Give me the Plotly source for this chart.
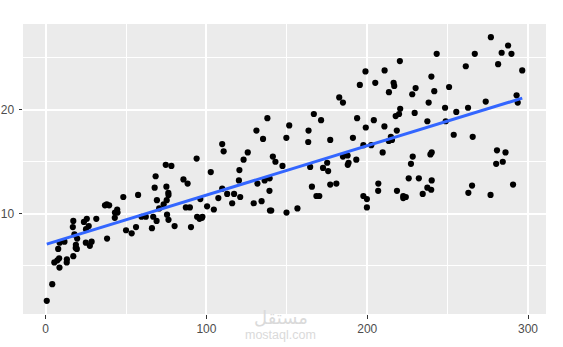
import numpy as np
import plotly.graph_objects as go

tv = [230.1, 44.5, 17.2, 151.5, 180.8, 8.7, 57.5, 120.2, 8.6, 199.8,
      66.1, 214.7, 23.8, 97.5, 204.1, 195.4, 67.8, 281.4, 69.2, 147.3,
      218.4, 237.4, 13.2, 228.3, 62.3, 262.9, 142.9, 240.1, 248.8, 70.6,
      292.9, 112.9, 97.2, 265.6, 95.7, 290.7, 266.9, 74.7, 43.1, 228.0,
      202.5, 177.0, 293.6, 206.9, 25.1, 175.1, 89.7, 239.9, 227.2, 66.9,
      199.8, 100.4, 216.4, 182.6, 262.7, 198.9, 7.3, 136.2, 210.8, 210.7,
      53.5, 261.3, 239.3, 102.7, 131.1, 69.0, 31.5, 139.3, 237.4, 216.8,
      199.1, 109.8, 26.8, 129.4, 213.4, 16.9, 27.5, 120.5, 5.4, 116.0,
      76.4, 239.8, 75.3, 68.4, 213.5, 193.2, 76.3, 110.7, 88.3, 109.8,
      134.3, 28.6, 217.7, 250.9, 107.4, 163.3, 197.6, 184.9, 289.7, 135.2,
      222.4, 296.4, 280.2, 187.9, 238.2, 137.9, 25.0, 90.4, 13.1, 255.4,
      225.8, 241.7, 175.7, 209.6, 78.2, 75.1, 139.2, 76.4, 125.7, 19.4,
      141.3, 18.8, 224.0, 123.1, 229.5, 87.2, 7.8, 80.2, 220.3, 59.6,
      0.7, 265.2, 8.4, 219.8, 36.9, 48.3, 25.6, 273.7, 43.0, 184.9,
      73.4, 193.7, 220.5, 104.6, 96.2, 140.3, 240.1, 243.2, 38.0, 44.7,
      280.7, 121.0, 197.6, 171.3, 187.8, 4.1, 93.9, 149.8, 11.7, 131.7,
      172.5, 85.7, 188.4, 163.5, 117.2, 234.5, 17.9, 206.8, 215.4, 284.3,
      50.0, 164.5, 19.6, 168.4, 222.4, 276.9, 248.4, 170.2, 276.7, 165.6,
      156.6, 218.5, 56.2, 287.6, 253.8, 205.0, 139.5, 191.1, 286.0, 18.7,
      39.5, 75.5, 17.2, 166.8, 149.7, 38.2, 94.2, 177.0, 283.6, 232.1]

sales = [22.1, 10.4, 9.3, 18.5, 12.9, 7.2, 11.8, 13.2, 4.8, 10.6,
         8.6, 17.4, 9.2, 9.7, 19.0, 22.4, 12.5, 24.4, 11.3, 14.6,
         18.0, 12.5, 5.6, 15.5, 9.7, 12.0, 15.0, 15.9, 18.9, 10.5,
         21.4, 11.9, 9.6, 17.4, 9.5, 12.8, 25.4, 14.7, 10.1, 21.5,
         16.6, 17.1, 20.7, 12.9, 8.5, 14.9, 10.6, 23.2, 14.8, 9.7,
         11.4, 10.7, 22.6, 21.2, 20.2, 23.7, 5.5, 13.2, 23.8, 18.4,
         8.1, 24.2, 15.7, 14.0, 18.0, 9.3, 9.5, 13.4, 18.9, 22.3,
         18.3, 12.4, 8.8, 11.0, 17.0, 8.7, 6.9, 14.2, 5.3, 11.0,
         11.8, 12.3, 11.3, 13.6, 21.7, 15.2, 12.0, 16.0, 12.9, 16.7,
         11.2, 7.3, 19.4, 22.2, 11.5, 16.9, 11.7, 15.5, 25.4, 17.2,
         11.7, 23.8, 14.8, 14.7, 20.7, 19.2, 7.2, 8.7, 5.3, 19.8,
         13.4, 21.8, 14.1, 15.9, 14.6, 12.6, 12.2, 9.4, 15.9, 6.6,
         15.5, 7.0, 11.6, 15.2, 19.7, 10.6, 6.6, 8.8, 24.7, 9.7,
         1.6, 12.7, 5.7, 19.6, 10.8, 11.6, 9.5, 20.8, 9.6, 20.7,
         10.9, 19.2, 20.1, 10.4, 11.4, 10.3, 13.2, 25.4, 10.9, 10.1,
         16.1, 11.6, 16.6, 19.0, 15.6, 3.2, 15.3, 10.1, 7.3, 12.9,
         14.4, 13.3, 14.9, 18.0, 11.9, 11.9, 8.0, 12.2, 17.1, 15.0,
         8.4, 14.5, 7.6, 11.7, 11.5, 27.0, 20.2, 11.7, 11.8, 12.6,
         10.5, 12.2, 8.7, 26.2, 17.6, 22.6, 10.3, 17.3, 15.9, 6.7,
         10.8, 9.9, 5.9, 19.6, 17.3, 7.6, 9.7, 12.8, 25.5, 13.4]

x_ticks = [0, 100, 200, 300]
y_ticks = [10, 20]

# linear model fit (as geom_smooth(method = "lm"))
slope, intercept = np.polyfit(tv, sales, 1)
x_line = np.array([min(tv), max(tv)])
y_line = intercept + slope * x_line

fig = go.Figure()
fig.add_trace(go.Scatter(
    x=tv, y=sales, mode="markers",
    marker=dict(color="black", size=6.2, line=dict(width=0)),
    hoverinfo="skip", showlegend=False))
fig.add_trace(go.Scatter(
    x=x_line, y=y_line, mode="lines",
    line=dict(color="#3366FF", width=3),
    hoverinfo="skip", showlegend=False))

xr = [min(tv) - 0.05 * (max(tv) - min(tv)), max(tv) + 0.05 * (max(tv) - min(tv))]
yr = [min(sales) - 0.05 * (max(sales) - min(sales)), max(sales) + 0.05 * (max(sales) - min(sales))]

axis_common = dict(
    showgrid=True, gridcolor="white", gridwidth=1.8,
    zeroline=False, showline=False, automargin=False,
    ticks="outside", ticklen=3.5, tickwidth=1.1, tickcolor="#333333",
    tickfont=dict(family="Liberation Sans, Arial", size=12, color="#4D4D4D"),
)

fig.update_xaxes(range=xr, tickvals=x_ticks, ticktext=[str(v) for v in x_ticks],
                 minor=dict(tickvals=[50, 150, 250], showgrid=True, gridcolor="white", gridwidth=0.9, ticks=""),
                 **axis_common)
fig.update_yaxes(range=yr, tickvals=y_ticks, ticktext=[str(v) for v in y_ticks],
                 minor=dict(tickvals=[5, 15, 25], showgrid=True, gridcolor="white", gridwidth=0.9, ticks=""),
                 ticklabelstandoff=2,
                 **axis_common)

fig.add_annotation(text="مستقل", xref="paper", yref="paper", x=0.493, y=-0.01,
                   showarrow=False, font=dict(family="Noto Sans, DejaVu Sans", size=18, color="#DADADA"),
                   xanchor="center", yanchor="middle")
fig.add_annotation(text="mostaql.com", xref="paper", yref="paper", x=0.493, y=-0.072,
                   showarrow=False, font=dict(family="Liberation Sans, Arial", size=12.5, color="#DADADA"),
                   xanchor="center", yanchor="middle")

fig.update_layout(
    width=563, height=347,
    margin=dict(l=23, r=17, t=24, b=33),
    paper_bgcolor="white", plot_bgcolor="#EBEBEB",
    showlegend=False,
)

fig.write_html("out.html")
